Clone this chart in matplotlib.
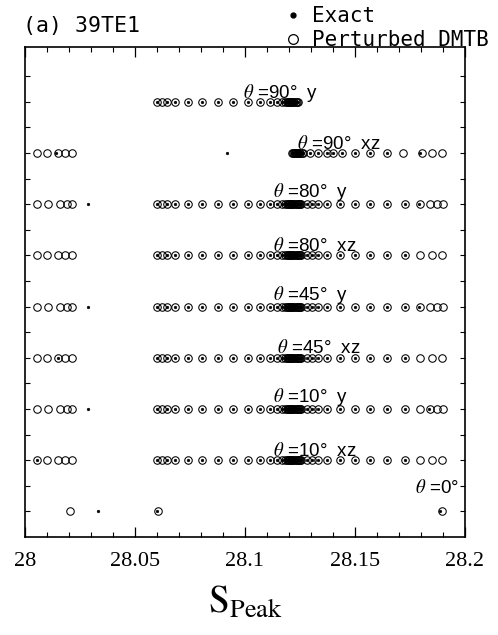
import matplotlib
matplotlib.use('Agg')
import matplotlib.pyplot as plt
from matplotlib.lines import Line2D
from matplotlib.ticker import MultipleLocator

plt.rcParams['mathtext.fontset'] = 'stix'

# ---------------- data ----------------
row_names = ['θ=0°', 'θ=10° xz', 'θ=10° y', 'θ=45° xz', 'θ=45° y',
             'θ=80° xz', 'θ=80° y', 'θ=90° xz', 'θ=90° y']

left_y = [28.0053, 28.0106, 28.0159, 28.0189, 28.0212]
left_xz = [28.0053, 28.0098, 28.0152, 28.0182, 28.0212]
start = [28.0598, 28.0621, 28.0644, 28.0682]
core_left = [28.0742, 28.0803, 28.0879, 28.0947, 28.1015, 28.1068,
             28.1114, 28.1144, 28.1167, 28.1182]
blob = [28.1190, 28.1195, 28.1200, 28.1205, 28.1210, 28.1215, 28.1220,
        28.1225, 28.1230, 28.1235, 28.1240, 28.1245, 28.1250, 28.1256]
blob_top = [28.1190, 28.1195, 28.1200, 28.1205, 28.1210, 28.1215, 28.1220,
            28.1225, 28.1230, 28.1235, 28.1240]
core_right = [28.1280, 28.1303, 28.1333, 28.1371, 28.1432, 28.1500,
              28.1568, 28.1644, 28.1727]
end_y = [28.1795, 28.1841, 28.1871, 28.1902]
end_xz = [28.1795, 28.1848, 28.1894]

blob_90xz = [28.1212, 28.1217, 28.1222, 28.1227, 28.1232, 28.1237, 28.1242,
             28.1247, 28.1252, 28.1258, 28.1265]
right_90xz = [28.1295, 28.1333, 28.1371, 28.1402, 28.1439, 28.1500,
              28.1568, 28.1644, 28.1720, 28.1803, 28.1850, 28.1894]

perturbed = [
    [28.0205, 28.0606, 28.1894],
    left_xz + start + core_left + blob + core_right + end_xz,
    left_y + start + core_left + blob + core_right + end_y,
    left_xz + start + core_left + blob + core_right + end_xz,
    left_y + start + core_left + blob + core_right + end_y,
    left_xz + start + core_left + blob + core_right + end_xz,
    left_y + start + core_left + blob + core_right + end_y,
    left_xz + blob_90xz + right_90xz,
    start + core_left + blob_top,
]

exact_core = [28.0602, 28.0646, 28.0682] + core_left + blob + core_right
exact = [
    [28.0333, 28.0599, 28.1887],
    [28.0053] + exact_core,
    [28.0288] + exact_core + [28.1838],
    [28.0150] + exact_core,
    [28.0288] + exact_core + [28.1790],
    exact_core,
    [28.0288] + exact_core + [28.1790],
    [28.0140, 28.0917] + blob_90xz + right_90xz[:8] + [28.1797],
    [28.0601, 28.0646, 28.0682] + core_left + blob_top,
]

label_texts = [r'$\theta$ =0°', r'$\theta$ =10°  xz', r'$\theta$ =10°  y',
               r'$\theta$ =45°  xz', r'$\theta$ =45°  y', r'$\theta$ =80°  xz',
               r'$\theta$ =80°  y', r'$\theta$ =90°  xz', r'$\theta$ =90°  y']
label_x = [28.1773, 28.1127, 28.1127, 28.1145, 28.1127, 28.1127, 28.1127,
           28.1236, 28.0991]
label_dy = [0.36, 0.09, 0.14, 0.09, 0.13, 0.09, 0.15, 0.07, 0.08]

xticks = [28, 28.05, 28.1, 28.15, 28.2]
xtick_labels = ['28', '28.05', '28.1', '28.15', '28.2']

# ---------------- figure ----------------
fig = plt.figure(figsize=(4.98, 6.35), dpi=100)
ax = fig.add_axes([25 / 498, 1 - 537 / 635, 440 / 498, 490 / 635])

for i in range(len(row_names)):
    ax.plot(exact[i], [i] * len(exact[i]), linestyle='none', marker='o',
            ms=2.0, mfc='black', mec='black', mew=0.3, zorder=3)
    ax.plot(perturbed[i], [i] * len(perturbed[i]), linestyle='none', marker='o',
            ms=5.4, mfc='none', mec='black', mew=0.75, zorder=2)
    ax.text(label_x[i], i + label_dy[i], label_texts[i],
            fontfamily='Liberation Sans', fontsize=13.5, va='baseline',
            ha='left', zorder=4)

ax.set_xlim(28, 28.2)
ax.set_ylim(-0.5, 9.07)
ax.set_xticks(xticks)
ax.set_xticklabels(xtick_labels, fontfamily='Liberation Serif', fontsize=16)
ax.xaxis.set_minor_locator(MultipleLocator(0.01))
ax.set_yticks([k * 0.5 for k in range(0, 18)])
ax.set_yticklabels([])
ax.tick_params(axis='x', which='major', direction='in', top=True, bottom=True,
               length=7, width=0.9, pad=11)
ax.tick_params(axis='x', which='minor', direction='in', top=True, bottom=True,
               length=3.5, width=0.8)
ax.tick_params(axis='y', which='major', direction='in', left=True, right=True,
               length=3.5, width=0.8)
for s in ax.spines.values():
    s.set_linewidth(1.2)

ax.set_xlabel(r'$\mathrm{S}_{\mathrm{Peak}}$', fontsize=27, labelpad=10)

fig.text(23 / 498, 1 - 32 / 635, '(a) 39TE1', fontfamily='DejaVu Sans Mono',
         fontsize=15.5, va='baseline', ha='left')

handles = [Line2D([], [], linestyle='none', marker='o', ms=3.5, mfc='black',
                  mec='black'),
           Line2D([], [], linestyle='none', marker='o', ms=7, mfc='none',
                  mec='black', mew=0.9)]
leg = ax.legend(handles, ['Exact', 'Perturbed DMTB'], loc='upper left',
                bbox_to_anchor=(285 / 498, 1 - 6 / 635),
                bbox_transform=fig.transFigure, frameon=False,
                prop={'family': 'DejaVu Sans Mono', 'size': 15},
                handlelength=0.8, handletextpad=0.5, labelspacing=0.2,
                borderpad=0.0, borderaxespad=0.0)

fig.savefig('out.png', dpi=100)
